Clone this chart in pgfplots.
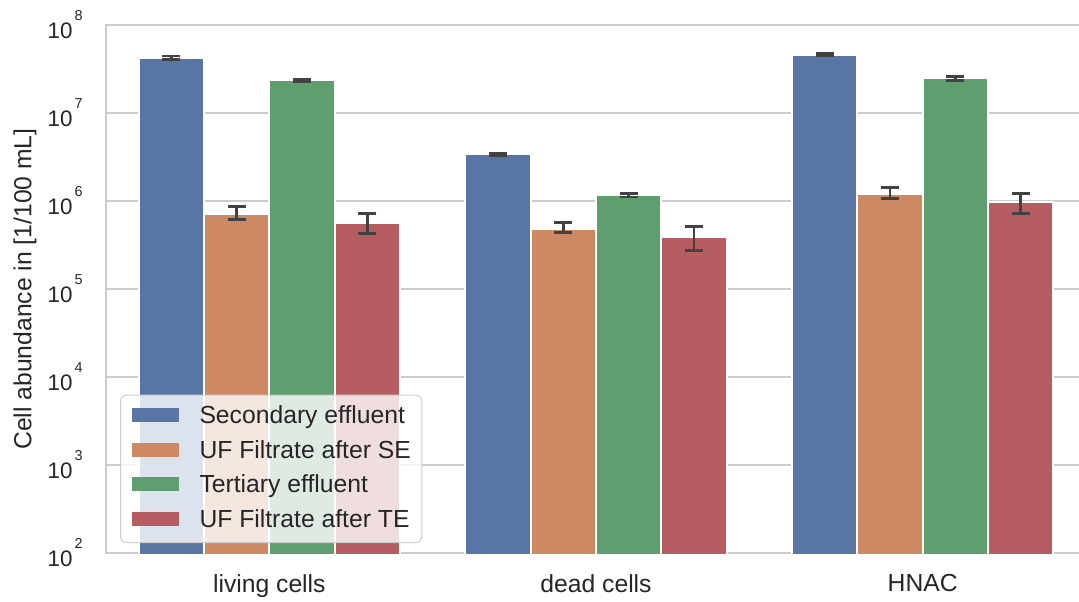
\documentclass[border=0pt]{standalone}
\usepackage{pgfplots}
\pgfplotsset{compat=1.18}
\usepackage{pgfplotstable}
\usepackage{fontspec}
\setmainfont{Liberation Sans}
\definecolor{sblue}{HTML}{5975A4}
\definecolor{sorange}{HTML}{CC8963}
\definecolor{sgreen}{HTML}{5F9E6E}
\definecolor{sred}{HTML}{B55D60}
\definecolor{gridgray}{HTML}{CCCCCC}
\definecolor{txt}{HTML}{262626}
\definecolor{errgray}{HTML}{424242}
\newcommand\pw[1]{10\hspace{1pt}\raisebox{9pt}{\fontsize{7.2pt}{7.5pt}\selectfont #1}}

% bar values
\pgfplotstableread{
x y
-0.3 4.27e7
0.7 3.38e6
1.7 4.62e7
}\se
\pgfplotstableread{
x y
-0.1 7.18e5
0.9 4.82e5
1.9 1.20e6
}\ufse
\pgfplotstableread{
x y
0.1 2.37e7
1.1 1.16e6
2.1 2.47e7
}\te
\pgfplotstableread{
x y
0.3 5.68e5
1.3 3.94e5
2.3 9.64e5
}\ufte

\begin{document}
\begin{tikzpicture}
\begin{axis}[
  scale only axis,
  width=490pt, height=264pt,
  ymode=log,
  ymin=1e2, ymax=1e8,
  xmin=-0.5, xmax=2.5,
  xtick={0,1,2},
  xticklabels={living cells, dead cells, HNAC},
  ytick={1e2,1e3,1e4,1e5,1e6,1e7,1e8},
  yticklabels={\pw{2},\pw{3},\pw{4},\pw{5},\pw{6},\pw{7},\pw{8}},
  minor ytick={},
  major tick length=0pt,
  ymajorgrids,
  grid style={gridgray, line width=1pt},
  axis line style={gridgray, line width=1.25pt},
  tick style={draw=none},
  xticklabel style={font=\fontsize{12.35pt}{14pt}\selectfont, text=txt, anchor=north, inner sep=0pt, yshift=-10.5pt},
  yticklabel style={font=\fontsize{11.2pt}{13pt}\selectfont, text=txt, anchor=east, inner sep=0pt, xshift=-11.5pt},
  ylabel={Cell abundance in [1/100 mL]},
  ylabel style={font=\fontsize{12.35pt}{14pt}\selectfont, text=txt, at={(rel axis cs:0,0.5)}, anchor=center, yshift=40.5pt},
  legend cell align=left,
  legend image code/.code={\fill[#1, fill opacity=1, draw=none, sharp corners] (0pt,-2.6pt) rectangle (23.5pt,4.4pt);},
  legend style={at={(rel axis cs:0.01429,0.0189)}, anchor=south west,
    fill=white, fill opacity=0.8, draw opacity=1, text opacity=1,
    draw=gridgray, line width=0.5pt, rounded corners=3pt,
    inner xsep=5.5pt, inner ysep=5.2pt, row sep=5.75pt, column sep=10.5pt,
    font=\fontsize{12.35pt}{14pt}\selectfont, text=txt,
    nodes={inner sep=0pt, text height=9pt, text depth=2.5pt}},
  errb/.style={errgray, line width=1.35pt, mark=-, mark size=4.5pt, mark options={solid, line width=1.35pt}, forget plot},
]
\addplot[ybar, bar width=0.2, bar shift=0pt, fill=sblue, draw=white, line width=1pt] table[x=x, y=y]{\se};
\addlegendentry{Secondary effluent}
\addplot[ybar, bar width=0.2, bar shift=0pt, fill=sorange, draw=white, line width=1pt] table[x=x, y=y]{\ufse};
\addlegendentry{UF Filtrate after SE}
\addplot[ybar, bar width=0.2, bar shift=0pt, fill=sgreen, draw=white, line width=1pt] table[x=x, y=y]{\te};
\addlegendentry{Tertiary effluent}
\addplot[ybar, bar width=0.2, bar shift=0pt, fill=sred, draw=white, line width=1pt] table[x=x, y=y]{\ufte};
\addlegendentry{UF Filtrate after TE}
% error bars (low, high)
\addplot[errb] coordinates {(-0.3,4.08e7) (-0.3,4.46e7)};
\addplot[errb] coordinates {(0.7,3.29e6) (0.7,3.47e6)};
\addplot[errb] coordinates {(1.7,4.47e7) (1.7,4.77e7)};
\addplot[errb] coordinates {(-0.1,6.20e5) (-0.1,8.69e5)};
\addplot[errb] coordinates {(0.9,4.35e5) (0.9,5.67e5)};
\addplot[errb] coordinates {(1.9,1.07e6) (1.9,1.43e6)};
\addplot[errb] coordinates {(0.1,2.30e7) (0.1,2.44e7)};
\addplot[errb] coordinates {(1.1,1.11e6) (1.1,1.21e6)};
\addplot[errb] coordinates {(2.1,2.36e7) (2.1,2.58e7)};
\addplot[errb] coordinates {(0.3,4.30e5) (0.3,7.19e5)};
\addplot[errb] coordinates {(1.3,2.72e5) (1.3,5.13e5)};
\addplot[errb] coordinates {(2.3,7.18e5) (2.3,1.21e6)};
\end{axis}
\pgfresetboundingbox
\path ([xshift=-53pt,yshift=-24pt]current axis.south west) rectangle ([xshift=486.5pt,yshift=12.5pt]current axis.north west);
\end{tikzpicture}
\end{document}
